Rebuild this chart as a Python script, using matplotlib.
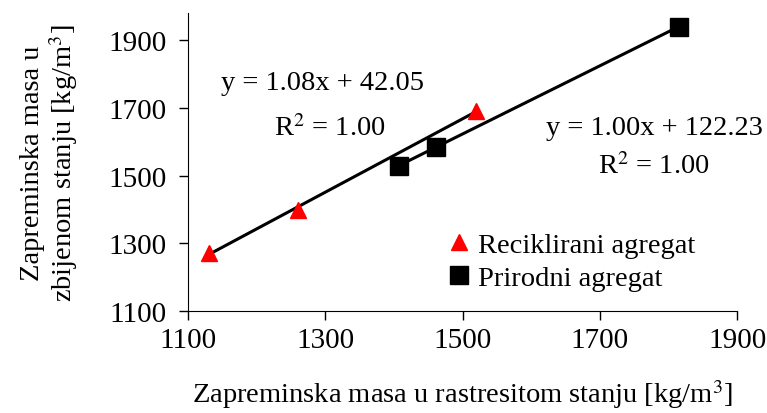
import numpy as np
import matplotlib
matplotlib.use('Agg')
import matplotlib.pyplot as plt

plt.rcParams['font.family'] = ['Liberation Serif', 'DejaVu Serif']
plt.rcParams['mathtext.fontset'] = 'stix'

# Podaci
rec_x = [1130, 1260, 1520]
rec_y = [1272, 1400, 1692]
pri_x = [1407, 1462, 1815]
pri_y = [1530, 1584, 1940]

xticks = [1100, 1300, 1500, 1700, 1900]
yticks = [1100, 1300, 1500, 1700, 1900]

fig = plt.figure(figsize=(7.67, 4.14), dpi=100)
ax = fig.add_axes([0.245, 0.246, 0.716, 0.72])

# Linije trenda
for xs, ys in [(rec_x, rec_y), (pri_x, pri_y)]:
    k, n = np.polyfit(xs, ys, 1)
    xx = np.array([min(xs), max(xs)])
    ax.plot(xx, k * xx + n, color='black', lw=2.2, zorder=2)

ax.plot(rec_x, rec_y, linestyle='none', marker='^', color='red', ms=12,
        label='Reciklirani agregat', zorder=3)
ax.plot(pri_x, pri_y, linestyle='none', marker='s', color='black', ms=12.5,
        label='Prirodni agregat', zorder=3)

ax.set_xlim(1100, 1900)
ax.set_ylim(1100, 1980)
ax.set_xticks(xticks)
ax.set_yticks(yticks)
ax.tick_params(labelsize=21, direction='out', length=6.5, width=1)
ax.tick_params(axis='x', pad=5)
ax.tick_params(axis='y', pad=9)
for s in ['top', 'right']:
    ax.spines[s].set_visible(False)

ax.set_xlabel('Zapreminska masa u rastresitom stanju [kg/m$^3$]', fontsize=20.5, labelpad=17)
ax.set_ylabel('Zapreminska masa u\nzbijenom stanju [kg/m$^3$]', fontsize=20.5,
              labelpad=20, linespacing=1.1)

ax.text(1296, 1775, 'y = 1.08x + 42.05', fontsize=20.5, ha='center', va='center')
ax.text(1307, 1642, 'R$^2$ = 1.00', fontsize=20.5, ha='center', va='center')
ax.text(1780, 1642, 'y = 1.00x + 122.23', fontsize=20.5, ha='center', va='center')
ax.text(1779, 1530, 'R$^2$ = 1.00', fontsize=20.5, ha='center', va='center')

ax.legend(loc='lower left', bbox_to_anchor=(0.445, 0.03), frameon=False, fontsize=20.5,
          handletextpad=0.1, borderaxespad=0, labelspacing=0.25, handlelength=1.1)

fig.savefig('out.png', dpi=100)
